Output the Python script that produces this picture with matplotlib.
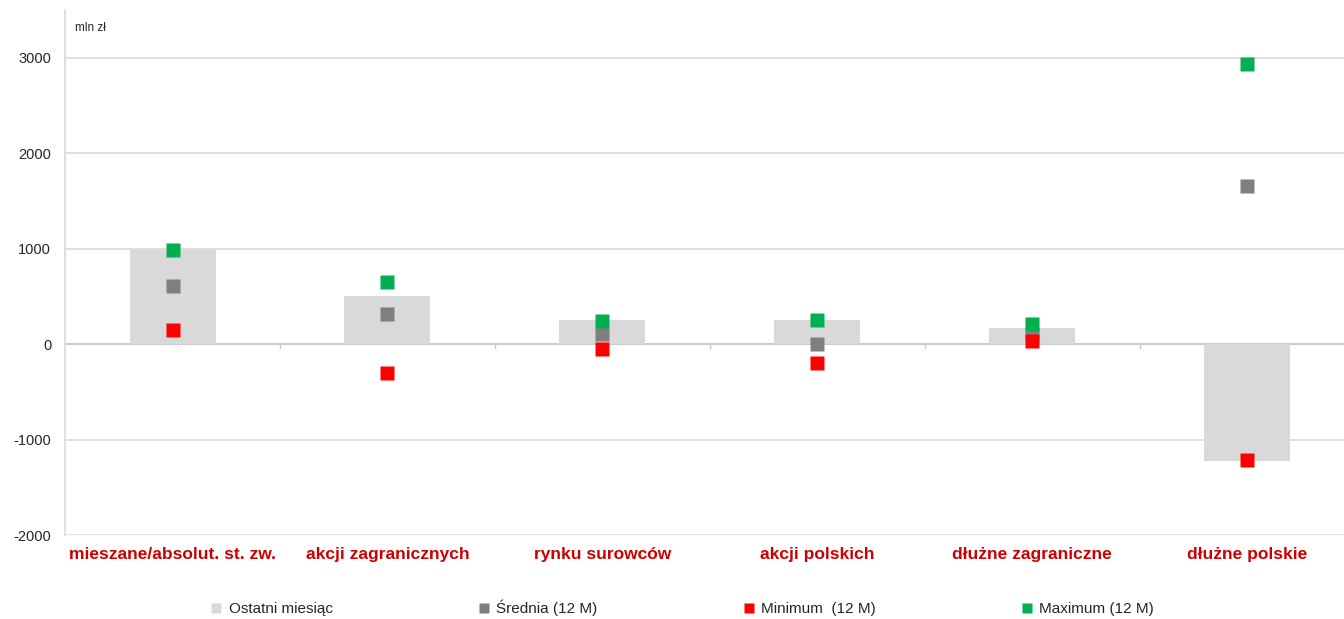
import matplotlib
matplotlib.use("Agg")
import matplotlib.pyplot as plt
from matplotlib.lines import Line2D
import matplotlib.transforms as mtransforms
import numpy as np

plt.rcParams['font.family'] = ['Liberation Sans', 'DejaVu Sans']

categories = ["mieszane/absolut. st. zw.", "akcji zagranicznych", "rynku surowców",
              "akcji polskich", "dłużne zagraniczne", "dłużne polskie"]
last_month = [990, 500, 250, 250, 170, -1225]
average_12m = [605, 315, 110, 0, 110, 1655]
minimum_12m = [145, -305, -50, -195, 30, -1215]
maximum_12m = [985, 650, 245, 250, 210, 2930]
y_ticks = [-2000, -1000, 0, 1000, 2000, 3000]

bar_color = "#d9d9d9"
avg_color = "#7f7f7f"
min_color = "#ff0000"
max_color = "#00b050"
label_color = "#cc0000"

fig = plt.figure(figsize=(13.44, 6.19), dpi=100)
ax = fig.add_axes([0.0484, 0.1357, 0.9516, 0.8481])

x = np.arange(len(categories))
ax.bar(x, last_month, width=0.4, color=bar_color, zorder=2)

ms = 10.5
ax.plot(x, average_12m, linestyle='none', marker='s', ms=ms, color=avg_color, mec='none', zorder=3)
ax.plot(x, minimum_12m, linestyle='none', marker='s', ms=ms, color=min_color, mec='none', zorder=4)
ax.plot(x, maximum_12m, linestyle='none', marker='s', ms=ms, color=max_color, mec='none', zorder=5)

ax.set_xlim(-0.5, len(categories) - 0.5 - 0.05)
ax.set_ylim(-2000, 3500)
ax.set_yticks(y_ticks)
ax.set_yticklabels([str(v) for v in y_ticks], fontsize=10.5, color="#262626")
ax.tick_params(axis='y', length=0, pad=10)
ax.set_xticks([])

for v in y_ticks:
    ax.axhline(v, color="#d9d9d9", lw=1.2, zorder=1)
ax.axhline(0, color="#c8c8c8", lw=1.2, zorder=1)

# small category-boundary ticks on the zero line
for b in np.arange(0.5, len(categories) - 0.5, 1.0):
    ax.plot([b, b], [0, -40], color="#c8c8c8", lw=1, zorder=1)

for side in ['top', 'right', 'bottom']:
    ax.spines[side].set_visible(False)
ax.spines['left'].set_color("#d9d9d9")
ax.spines['left'].set_linewidth(1.2)

# category labels below the plot
lab_trans = mtransforms.blended_transform_factory(ax.transData, ax.transAxes)
for xi, name in zip(x, categories):
    ax.text(xi, -0.038, name, transform=lab_trans, ha='center', va='center',
            fontsize=12.5, fontweight='bold', color=label_color)

ax.text(0.008, 0.965, "mln zł", transform=ax.transAxes, fontsize=8.5, color="#262626",
        ha='left', va='center')

handles = [
    Line2D([], [], linestyle='none', marker='s', ms=7, color=bar_color, mec='none'),
    Line2D([], [], linestyle='none', marker='s', ms=7, color=avg_color, mec='none'),
    Line2D([], [], linestyle='none', marker='s', ms=7, color=min_color, mec='none'),
    Line2D([], [], linestyle='none', marker='s', ms=7, color=max_color, mec='none'),
]
labels = ["Ostatni miesiąc", "Średnia (12 M)", "Minimum  (12 M)", "Maximum (12 M)"]
fig.legend(handles, labels, loc='center', bbox_to_anchor=(0.508, 0.018), ncol=4,
           frameon=False, fontsize=11, handlelength=0.6, handletextpad=0.5,
           columnspacing=9.6, labelcolor="#262626")

fig.savefig("out.png", dpi=100, facecolor='white')
